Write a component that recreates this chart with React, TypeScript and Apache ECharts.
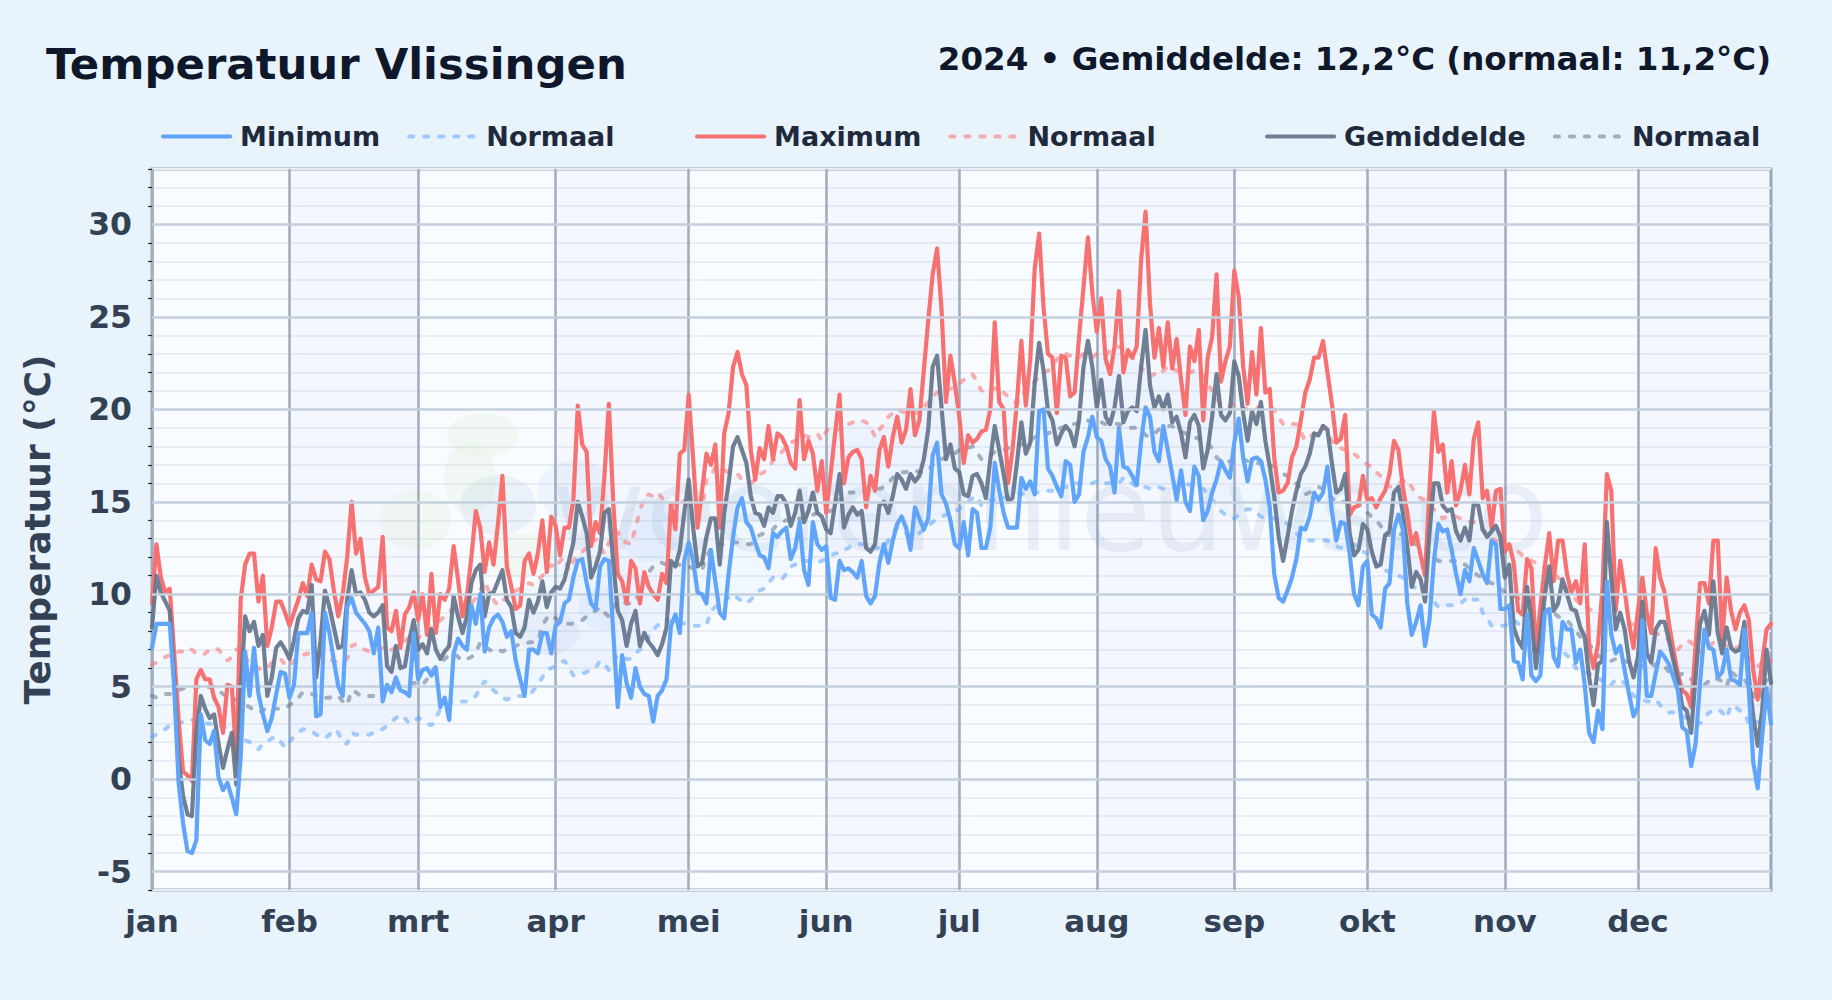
import React, { useEffect, useRef } from "react";
import * as echarts from "echarts";

const monthLabels = ["jan", "feb", "mrt", "apr", "mei", "jun", "jul", "aug", "sep", "okt", "nov", "dec"];
const monthStarts = [0, 31, 60, 91, 121, 152, 182, 213, 244, 274, 305, 335];
const yTickLabels = [-5, 0, 5, 10, 15, 20, 25, 30];
const yMinorTicks = [-6, -4, -3, -2, -1, 1, 2, 3, 4, 6, 7, 8, 9, 11, 12, 13, 14, 16, 17, 18, 19, 21, 22, 23, 24, 26, 27, 28, 29, 31, 32, 33];

const maxT = [
  9.5,12.7,10.9,10.1,10.3,6.8,3.2,0.4,0.2,-0.1,
  5.4,5.9,5.4,5.4,4.4,3.9,2.5,5.1,5.0,1.1,
  9.7,11.6,12.2,12.2,9.6,11.0,7.2,8.2,9.6,9.6,
  9.0,8.3,9.0,9.7,10.6,9.9,11.6,10.8,10.7,12.3,
  11.9,10.2,8.8,10.0,12.0,15.0,12.2,13.0,10.9,10.0,
  10.2,10.4,13.1,8.2,8.0,9.1,7.1,8.9,9.3,10.1,
  8.6,10.0,7.8,11.1,7.9,10.0,9.7,10.3,12.6,10.8,
  8.8,9.9,12.0,14.5,13.6,11.2,12.8,11.6,13.8,16.4,
  11.5,10.4,9.2,9.4,11.8,12.2,11.1,12.2,14.0,11.2,
  14.2,13.7,12.1,13.6,13.6,15.1,20.2,18.1,17.7,12.6,
  13.9,13.3,16.4,20.3,14.9,11.1,10.7,9.5,11.8,11.4,
  9.5,11.2,10.4,10.0,9.7,11.1,10.6,14.9,13.5,17.6,
  17.8,20.8,17.3,13.6,15.6,17.6,17.0,18.1,13.6,18.7,
  19.8,22.3,23.1,21.9,21.3,17.8,16.2,17.9,17.3,19.1,
  17.3,18.7,18.5,18.0,17.1,16.8,20.5,17.3,18.3,17.6,
  15.6,17.2,14.4,16.5,18.7,20.8,16.0,17.4,17.7,17.8,
  17.3,14.7,16.4,15.6,17.8,18.5,16.9,18.5,19.6,18.2,
  18.9,21.1,18.6,19.4,22.1,24.8,27.3,28.7,25.4,20.4,
  22.9,21.4,19.6,17.1,18.6,18.2,18.4,18.8,18.9,20.0,
  24.7,20.4,20.0,16.0,17.8,20.4,23.7,20.2,22.7,27.6,
  29.5,25.5,23.0,22.8,19.8,22.9,22.8,20.7,20.9,23.9,
  26.6,29.3,26.3,24.2,26.0,22.7,21.9,23.4,26.4,22.0,
  23.2,22.8,23.4,28.1,30.7,25.7,22.8,24.4,22.3,24.7,
  22.2,23.8,21.6,19.7,23.4,22.6,24.3,19.4,22.8,23.9,
  27.3,21.5,22.6,23.4,27.5,26.1,22.3,20.3,23.1,20.8,
  24.4,20.9,21.1,17.4,15.5,15.6,16.0,17.4,18.0,19.4,
  20.9,21.6,22.8,22.8,23.7,22.0,20.3,18.2,18.4,19.7,
  14.3,14.7,14.8,16.4,15.1,15.2,14.7,15.2,15.6,16.5,
  18.3,17.8,15.8,14.4,12.7,13.3,12.1,11.0,15.6,19.9,
  17.7,18.1,15.5,17.2,14.8,15.6,17.0,15.4,18.4,19.3,
  15.2,15.6,13.6,15.6,15.7,12.3,12.7,11.7,9.1,8.9,
  11.9,11.4,6.9,9.3,11.5,13.3,10.7,12.9,12.9,11.1,
  10.1,10.7,9.5,12.7,7.1,6.0,7.3,10.3,16.5,15.6,
  9.1,11.8,10.2,8.4,7.1,9.1,10.9,9.0,7.9,12.5,
  10.9,10.1,8.4,7.0,5.7,4.8,4.6,3.9,7.2,10.6,
  10.6,9.5,12.9,12.9,7.5,10.9,9.1,8.1,9.0,9.4,
  8.6,5.9,4.3,6.3,8.1,8.4,
];

const avgT = [
  8.2,11.0,10.1,9.6,9.1,5.4,1.0,-0.9,-1.9,-2.0,
  2.5,4.5,3.8,3.3,3.5,1.9,0.6,1.6,2.5,-0.3,
  4.8,8.8,8.0,8.5,7.2,7.8,4.5,5.5,7.1,7.4,
  7.0,6.5,7.5,8.7,9.1,9.0,10.5,5.5,7.5,10.2,
  9.3,8.2,7.1,7.2,9.7,11.3,10.0,10.1,9.7,9.0,
  8.8,9.0,9.4,6.1,5.8,7.2,6.0,6.1,7.5,8.6,
  7.0,7.3,6.8,8.1,7.0,6.5,6.9,7.2,9.9,8.8,
  7.9,8.8,10.6,11.3,11.6,8.8,10.0,10.1,10.7,11.3,
  9.7,9.3,7.9,7.7,8.2,9.7,9.0,9.6,10.7,9.3,
  10.1,10.4,10.3,10.8,11.8,12.8,15.0,14.2,13.3,10.9,
  11.5,12.3,14.4,14.6,11.7,9.1,8.6,7.2,8.4,9.1,
  7.2,7.9,7.4,7.1,6.7,7.3,8.2,11.8,11.5,12.4,
  14.4,16.2,13.6,11.5,11.7,13.1,14.1,14.1,11.6,14.4,
  16.0,18.0,18.5,17.8,17.1,15.3,14.4,14.3,13.7,14.7,
  14.4,15.3,15.3,14.9,13.7,14.4,15.6,13.9,14.5,15.5,
  14.4,14.2,13.5,13.3,14.9,16.5,13.6,14.3,14.7,14.3,
  14.5,12.5,12.3,12.7,14.8,15.0,14.4,15.3,16.5,16.2,
  15.7,16.5,16.1,16.4,17.3,18.9,22.3,22.9,20.1,17.3,
  18.1,16.8,16.6,15.4,15.3,16.4,16.5,16.0,15.2,17.3,
  19.1,17.8,16.5,15.0,15.2,17.1,19.3,17.6,18.2,21.4,
  23.6,22.1,19.9,19.4,18.1,18.7,19.1,18.8,18.0,19.4,
  22.3,23.7,22.3,20.1,21.6,19.6,19.2,20.1,21.8,19.3,
  19.9,20.1,19.9,22.3,24.3,21.3,20.1,20.7,20.0,20.8,
  19.3,19.6,18.7,17.4,19.3,19.7,19.1,16.8,17.8,19.6,
  21.9,19.7,19.4,19.8,22.6,21.8,19.8,18.3,19.9,19.2,
  20.4,18.3,16.9,15.3,13.1,11.8,13.1,14.5,15.6,16.5,
  16.9,17.6,18.7,18.6,19.1,18.9,17.1,15.5,15.7,16.5,
  13.3,12.1,12.4,13.8,13.5,12.3,11.5,11.6,13.2,13.4,
  15.5,15.8,14.4,12.6,10.4,11.2,10.8,9.6,13.3,16.0,
  16.0,14.8,14.5,14.6,13.4,12.9,13.6,12.9,14.9,14.8,
  13.5,13.1,13.4,13.7,13.1,10.9,11.6,8.2,7.5,7.1,
  10.4,8.6,6.0,7.9,9.9,11.5,9.1,9.5,10.8,10.0,
  9.2,9.1,8.2,7.7,5.5,4.0,6.2,6.4,13.9,10.8,
  8.1,9.0,8.1,6.4,5.5,6.6,9.6,6.8,6.3,8.1,
  8.5,8.5,7.5,6.4,5.4,3.9,3.7,2.5,5.5,8.4,
  9.1,7.8,10.7,7.9,6.8,8.2,7.1,6.9,7.0,8.5,
  5.5,3.4,1.8,3.7,7.0,5.2,
];

const minT = [
  7.1,8.4,8.4,8.4,8.4,5.0,-0.2,-2.4,-3.9,-4.0,
  -3.3,3.5,2.1,1.9,2.6,0.1,-0.6,-0.2,-1.0,-1.9,
  1.2,6.9,4.5,7.1,4.6,3.5,2.6,3.3,4.6,5.8,
  5.7,4.4,5.1,7.9,7.9,7.9,9.0,3.4,3.5,9.0,
  7.9,6.4,5.0,4.5,9.3,9.8,9.0,8.7,8.4,8.0,
  6.8,8.2,4.2,5.1,4.7,5.5,4.8,4.7,4.5,7.9,
  5.4,5.9,6.0,5.6,6.0,3.9,4.4,3.2,6.8,7.6,
  7.2,7.0,9.4,8.4,10.0,6.9,8.2,8.7,8.9,8.5,
  7.7,8.0,6.4,5.4,4.5,7.0,7.0,6.8,7.9,7.9,
  6.8,8.3,8.5,9.5,9.7,10.9,11.8,11.9,10.6,9.5,
  9.2,11.5,11.9,11.8,7.9,3.9,6.7,5.2,4.4,6.0,
  5.0,4.6,4.5,3.1,4.5,4.8,5.4,8.3,8.9,7.9,
  11.8,12.8,11.8,10.1,10.0,9.5,12.4,10.7,9.0,8.7,
  11.1,13.1,14.7,15.2,13.9,13.6,12.8,12.1,12.0,11.4,
  13.3,13.1,13.4,13.6,11.9,12.5,13.9,11.3,10.5,13.9,
  12.7,12.4,12.6,9.8,9.7,11.8,11.3,11.4,11.2,10.9,
  11.8,9.9,9.5,9.9,11.7,12.7,11.7,12.9,13.8,14.2,
  13.6,12.4,14.7,14.1,13.5,14.1,17.5,18.2,15.4,14.9,
  14.0,12.7,12.5,13.9,12.1,14.6,14.4,12.5,12.5,13.6,
  17.1,15.6,14.4,13.6,13.6,13.6,16.3,15.7,16.1,15.4,
  19.9,20.0,16.8,16.4,15.8,15.3,17.2,17.0,15.0,15.4,
  17.7,18.5,19.6,18.5,18.3,17.3,16.9,15.5,19.0,16.9,
  16.8,16.4,15.9,18.3,20.1,19.6,17.7,17.2,19.1,17.8,
  16.5,15.1,16.7,15.0,14.5,16.9,16.4,14.0,14.5,15.5,
  16.2,17.2,16.7,16.3,18.2,19.5,17.4,16.1,17.3,17.4,
  17.2,16.2,14.7,11.1,9.8,9.6,10.2,10.9,11.9,13.6,
  13.5,14.2,15.5,15.1,15.5,16.9,14.5,12.9,13.9,13.8,
  12.2,10.0,9.4,11.5,11.8,8.9,8.7,8.2,10.3,10.6,
  13.5,14.3,13.5,9.5,7.8,8.5,9.4,7.2,8.6,11.8,
  13.8,13.4,13.5,12.4,11.1,10.0,11.3,10.7,12.5,11.8,
  11.1,10.6,12.9,12.7,9.2,9.2,9.4,6.4,6.3,5.4,
  8.9,5.6,5.3,5.6,9.0,9.2,6.6,6.1,8.5,8.1,
  8.1,6.3,7.0,5.1,2.5,2.0,3.7,2.7,10.7,7.8,
  6.8,7.2,5.9,4.6,3.4,3.9,8.6,4.5,4.5,5.7,
  6.9,6.6,6.2,5.5,4.8,2.8,2.6,0.7,1.9,5.2,
  8.1,7.1,7.0,5.5,5.8,7.0,5.4,5.3,5.1,8.1,
  4.8,0.9,-0.5,2.3,4.9,3.0,
];

const normalMax = [
  6.2,6.3,6.5,6.6,6.7,6.7,6.9,6.9,7.1,7.0,
  6.8,6.7,6.8,7.0,7.1,7.0,6.7,6.4,6.6,7.0,
  7.1,6.6,6.3,6.1,6.0,5.9,6.0,6.3,6.4,6.5,
  6.2,6.1,6.4,6.6,6.7,6.8,6.7,6.6,6.7,6.6,
  6.5,6.4,6.3,6.4,6.5,7.2,7.3,7.1,7.0,6.9,
  6.9,7.0,7.1,7.2,7.0,7.1,7.3,7.5,7.7,7.7,
  7.6,7.9,8.0,8.2,8.3,8.6,8.8,9.0,9.3,9.1,
  9.0,9.2,9.5,9.8,10.2,10.7,10.1,9.7,9.4,9.6,
  9.9,10.1,10.2,10.3,10.4,10.6,10.5,10.8,11.0,11.3,
  11.6,11.4,11.8,12.0,11.3,11.8,12.1,12.3,12.5,12.7,
  13.0,12.6,12.2,12.8,13.1,13.4,12.9,12.8,12.7,13.6,
  14.5,15.3,15.4,15.3,15.5,15.2,14.9,14.8,15.0,15.1,
  15.0,14.8,14.7,14.6,14.7,16.2,16.4,16.9,16.8,16.7,
  16.6,16.5,16.5,16.2,16.1,16.0,16.2,16.5,16.6,16.9,
  17.2,17.5,17.7,18.0,18.2,18.3,18.5,18.6,18.5,18.6,
  18.7,18.3,18.8,19.1,19.0,18.9,19.0,19.2,19.3,19.3,
  19.4,19.3,19.1,18.5,18.9,19.2,19.6,19.8,20.0,19.9,
  19.8,19.7,19.8,19.8,20.1,20.4,20.7,20.9,21.0,21.2,
  21.1,21.3,21.4,21.6,21.8,21.9,21.5,21.0,21.1,21.2,
  21.1,21.2,20.9,20.7,20.5,20.3,20.7,21.0,21.3,21.5,
  21.8,22.0,22.1,22.4,22.7,23.0,23.0,22.9,22.9,22.8,
  23.0,22.9,22.8,23.0,23.0,22.9,23.2,23.3,23.4,23.2,
  23.0,22.8,22.6,22.3,21.9,21.8,21.9,21.8,22.1,22.3,
  22.2,22.1,22.0,21.9,22.0,22.1,22.1,21.8,21.4,21.0,
  20.6,20.3,20.1,20.2,20.3,20.2,20.1,20.0,20.0,20.1,
  20.1,20.0,20.0,20.0,19.6,19.2,19.3,19.2,19.2,18.8,
  18.3,18.5,18.7,18.9,19.1,18.7,18.3,18.0,17.9,17.8,
  17.7,17.6,17.4,17.3,17.0,16.9,16.6,16.4,16.1,15.8,
  15.9,16.0,16.1,16.2,15.8,15.4,15.2,15.1,14.8,14.6,
  14.4,14.1,14.2,14.2,14.2,14.1,14.0,13.9,13.9,13.8,
  13.5,13.3,13.0,12.9,12.8,12.7,12.6,12.6,12.3,12.1,
  11.9,11.8,11.7,11.6,11.4,11.2,11.1,10.9,10.7,10.4,
  10.0,9.7,9.5,9.4,9.2,9.1,9.1,9.0,8.9,8.8,
  8.7,8.6,8.5,8.5,8.3,8.1,8.0,8.0,7.8,7.9,
  7.8,7.7,7.5,7.2,7.0,7.3,7.5,7.4,7.0,6.9,
  6.8,7.1,7.4,7.4,7.3,7.2,7.3,7.2,7.0,6.9,
  6.5,6.3,6.1,6.3,6.6,6.4,
];

const normalAvg = [
  4.5,4.4,4.5,4.6,4.6,4.7,4.8,4.9,5.0,5.0,
  5.0,5.0,4.9,5.0,5.0,4.8,4.6,4.5,4.4,4.3,
  4.1,4.0,3.9,3.7,3.6,3.7,3.9,3.9,3.8,3.8,
  3.8,4.0,4.2,4.4,4.7,4.7,4.6,4.5,4.4,4.4,
  4.4,4.5,4.5,4.2,4.0,4.8,4.7,4.5,4.5,4.5,
  4.5,4.7,4.8,4.9,4.9,5.0,5.0,5.1,5.1,5.2,
  5.2,5.1,5.4,5.8,6.1,6.3,6.5,6.7,6.8,6.6,
  6.4,6.5,6.6,6.8,7.4,7.2,7.0,6.9,7.0,6.9,
  7.0,7.2,7.2,7.3,7.3,7.4,7.4,7.5,8.3,8.7,
  8.9,8.7,8.5,8.4,8.4,8.4,8.5,8.6,8.8,9.0,
  9.1,9.3,9.0,8.8,9.3,9.6,9.6,9.5,9.5,9.6,
  10.2,10.8,11.2,11.5,11.7,11.7,11.6,11.7,11.6,11.6,
  11.6,11.5,11.4,11.4,11.3,12.0,12.5,12.6,12.7,12.7,
  12.8,12.8,12.8,12.8,12.7,12.7,13.0,13.2,13.3,13.4,
  13.5,13.8,13.9,14.0,14.0,14.0,14.1,14.1,14.2,14.3,
  14.4,14.4,14.5,14.5,14.8,15.1,15.3,15.5,15.5,15.5,
  15.6,15.6,15.6,15.7,15.7,15.8,16.0,16.3,16.5,16.6,
  16.6,16.7,16.7,16.6,16.6,16.7,17.0,17.2,17.3,17.4,
  17.5,17.6,17.8,17.8,17.9,18.0,17.7,17.3,17.4,17.5,
  17.7,17.8,17.8,17.9,18.0,18.1,18.1,18.2,18.3,18.5,
  18.6,18.6,18.7,18.8,18.9,19.0,19.1,19.2,19.2,19.3,
  19.4,19.4,19.3,19.4,19.3,19.2,19.2,19.2,19.2,19.1,
  19.0,19.0,19.0,18.9,18.6,18.5,18.7,18.9,19.0,19.1,
  19.1,18.9,18.8,18.7,18.6,18.5,18.4,18.4,18.2,17.9,
  17.4,17.2,17.1,17.2,17.2,17.3,17.3,17.2,17.2,17.1,
  17.1,17.1,17.0,16.9,16.7,16.5,16.4,16.2,16.0,15.7,
  15.4,15.5,15.7,15.8,15.7,15.5,15.2,15.0,15.0,15.0,
  15.0,15.1,14.9,14.6,14.4,14.2,14.0,13.7,13.2,13.2,
  13.3,13.3,13.2,13.0,12.8,12.7,12.7,12.5,12.2,12.0,
  11.8,11.8,11.8,11.8,11.8,11.8,11.6,11.4,11.2,11.0,
  10.9,10.7,10.6,10.5,10.3,10.1,10.0,9.9,9.8,9.7,
  9.6,9.5,9.4,9.3,9.2,9.1,9.0,8.8,8.7,8.6,
  8.3,8.0,7.7,7.6,7.3,7.0,6.7,6.5,6.4,6.4,
  6.5,6.4,6.4,6.3,6.3,6.2,6.1,6.0,6.1,6.2,
  6.3,6.1,5.8,5.7,5.6,5.7,5.6,5.4,5.3,5.2,
  5.1,5.3,5.5,5.4,5.3,5.0,5.8,5.6,5.5,5.4,
  5.0,4.6,4.2,4.8,5.4,5.0,
];

const normalMin = [
  2.3,2.4,2.6,2.7,2.9,2.9,3.0,3.1,3.2,3.2,
  3.1,3.1,3.0,3.0,2.9,2.9,2.8,2.8,2.7,2.4,
  2.2,2.1,2.0,1.8,1.6,1.9,2.0,2.2,2.3,2.0,
  1.7,2.0,2.3,2.5,2.7,2.7,2.6,2.4,2.3,2.2,
  2.4,2.7,2.5,2.0,1.9,2.5,2.4,2.4,2.4,2.4,
  2.5,2.6,2.7,2.9,3.1,3.3,3.5,3.3,3.0,3.1,
  3.3,3.2,3.0,2.9,3.3,3.8,4.0,4.1,4.1,4.2,
  4.2,4.2,4.3,4.5,4.9,5.3,5.0,4.8,4.6,4.4,
  4.3,4.4,4.5,4.5,4.5,4.5,4.8,5.1,5.5,5.9,
  6.0,6.1,6.3,6.4,6.0,5.6,5.6,5.7,5.8,5.9,
  6.0,6.4,6.2,5.9,6.3,6.7,6.6,6.5,6.5,6.8,
  7.0,7.3,7.7,8.1,8.3,8.6,8.6,8.5,8.6,8.5,
  8.4,8.4,8.3,8.3,8.3,8.3,9.1,9.3,9.5,9.6,
  9.8,10.0,9.8,9.6,9.5,9.7,10.0,10.2,10.3,10.6,
  10.9,10.9,10.8,11.1,11.5,11.6,11.7,11.8,11.8,11.7,
  11.7,11.8,11.9,12.1,12.2,12.2,12.4,12.5,12.7,12.7,
  12.7,12.7,12.6,12.5,12.5,12.5,12.9,13.3,13.6,13.5,
  13.3,13.2,13.1,13.3,13.5,13.7,13.9,14.1,14.2,14.3,
  14.4,14.5,14.6,14.8,15.0,15.2,15.3,14.8,14.9,15.1,
  15.1,15.2,15.2,15.3,15.3,15.4,15.4,15.5,15.5,15.5,
  15.5,15.5,15.6,15.6,15.7,15.8,15.8,15.9,16.0,16.0,
  16.0,16.0,16.0,16.1,16.0,16.0,16.0,16.0,16.0,16.3,
  16.1,16.0,15.8,15.8,15.8,15.7,15.7,15.8,15.7,15.7,
  15.7,15.8,15.9,16.0,15.9,15.8,15.7,15.7,15.4,15.1,
  14.9,14.5,14.3,14.2,14.1,14.3,14.5,14.6,14.6,14.4,
  14.2,14.1,14.1,14.1,14.0,14.0,13.8,13.6,13.3,13.0,
  12.9,12.9,12.9,12.9,12.9,12.9,12.7,12.6,12.5,12.6,
  12.6,12.7,12.5,12.3,12.2,12.0,11.7,11.4,11.3,11.2,
  11.0,11.0,10.9,10.7,10.5,10.3,10.1,10.0,9.8,9.6,
  9.3,9.3,9.4,9.4,9.5,9.5,9.7,9.9,9.7,9.7,
  9.0,8.7,8.3,8.3,8.3,8.3,8.4,8.6,8.4,8.2,
  8.0,7.9,7.8,7.6,7.5,7.3,7.1,7.0,6.9,6.7,
  6.4,6.0,5.9,5.8,5.7,5.6,5.5,5.3,5.0,5.1,
  5.4,5.3,5.2,4.9,4.5,4.4,4.3,4.2,4.2,4.3,
  4.0,3.8,3.6,3.6,3.5,3.4,3.3,3.2,3.1,3.0,
  3.3,3.6,3.7,3.8,3.6,3.3,4.0,3.9,3.7,3.6,
  3.0,3.0,3.1,3.0,2.9,2.9,
];

const days = maxT.map((_, i) => String(i));
const evenMonthBands = [1, 3, 5, 7, 9, 11].map((m) => [
  { xAxis: monthStarts[m] },
  { xAxis: m === 11 ? 365 : monthStarts[m + 1] },
]);
const isMonthStart = (i: number) => monthStarts.includes(i);

const FONT = "DejaVu Sans";
const BLUE = "#60a5fa";
const RED = "#f87171";
const GRAY = "#64748b";

function solid(name: string, data: number[], color: string, z: number, opacity = 1) {
  return {
    name, type: "line", data, z, symbol: "none", silent: true,
    itemStyle: { color },
    lineStyle: { color, width: 4.2, cap: "round", join: "round", opacity },
  };
}
function dashed(name: string, data: number[], color: string, z: number) {
  return {
    name, type: "line", data, z, symbol: "none", silent: true,
    itemStyle: { color },
    lineStyle: { color, width: 4, type: [4, 11], cap: "round", opacity: 0.55 },
  };
}
function legendAt(left: number, solidName: string, normalName: string) {
  const text = { fontFamily: FONT, fontWeight: "bold", fontSize: 27, color: "#1e293b" };
  return {
    left, top: 123, padding: 0, itemGap: 27, itemWidth: 67, itemHeight: 14,
    orient: "horizontal", selectedMode: false,
    itemStyle: { opacity: 0 },
    lineStyle: { width: 4.2, cap: "round" },
    data: [
      { name: solidName, textStyle: { ...text, padding: [0, 0, 0, 5] } },
      { name: normalName, textStyle: { ...text, padding: [0, 0, 0, 5] } },
    ],
    formatter: (n: string) => (n.startsWith("Normaal") ? "Normaal" : n),
    textStyle: text,
  };
}
function blob(cx: number, cy: number, rx: number, ry: number, fill: string) {
  return { type: "ellipse", silent: true, z: 1, shape: { cx, cy, rx, ry }, style: { fill } };
}

export default function App() {
  const ref = useRef<HTMLDivElement>(null);
  useEffect(() => {
    const chart = echarts.init(ref.current!, undefined, { renderer: "svg" });
    chart.setOption({
      animation: false,
      backgroundColor: "#e8f3fc",
      textStyle: { fontFamily: FONT },
      title: [
        { text: "Temperatuur Vlissingen", left: 46, top: 42, padding: 0,
          textStyle: { fontFamily: FONT, fontWeight: "bold", fontSize: 43.4, color: "#0f172a" } },
        { text: "2024 • Gemiddelde: 12,2°C (normaal: 11,2°C)", right: 61, top: 42, padding: 0,
          textStyle: { fontFamily: FONT, fontWeight: "bold", fontSize: 32.5, color: "#0f172a" } },
      ],
      legend: [
        legendAt(161, "Minimum", "Normaal min"),
        legendAt(695, "Maximum", "Normaal max"),
        legendAt(1265, "Gemiddelde", "Normaal gem"),
      ],
      grid: { left: 152, right: 61, top: 169, bottom: 110, show: true, backgroundColor: "#f8fbff", borderColor: "#9aa8bc", borderWidth: 3 },
      xAxis: {
        type: "category", data: days, boundaryGap: false,
        axisLine: { show: false }, axisTick: { show: false },
        axisLabel: {
          interval: (i: number) => isMonthStart(i),
          formatter: (_: string, i: number) => monthLabels[monthStarts.indexOf(i)] ?? "",
          fontFamily: FONT, fontWeight: "bold", fontSize: 31, color: "#334155", margin: 15,
          hideOverlap: false, showMinLabel: true,
        },
        splitLine: { show: true, interval: (i: number) => isMonthStart(i), lineStyle: { color: "#a3afc1", width: 2.6 } },
      },
      yAxis: {
        type: "value", min: -6, max: 33, interval: 1,
        name: "Temperatuur (°C)", nameLocation: "middle", nameGap: 97,
        nameTextStyle: { fontFamily: FONT, fontWeight: "bold", fontSize: 36, color: "#334155" },
        axisLine: { show: false },
        axisTick: { show: true, length: 4, customValues: yMinorTicks, lineStyle: { color: "#1f2937", width: 1.2 } },
        axisLabel: { customValues: yTickLabels, fontFamily: FONT, fontWeight: "bold", fontSize: 31.5, color: "#334155", margin: 20 },
        splitLine: { show: true, lineStyle: { color: "#e8edf4", width: 2 } },
      },
      graphic: [
        blob(483, 435, 36, 22, "rgba(190,225,150,0.10)"),
        blob(470, 478, 26, 36, "rgba(190,225,150,0.10)"),
        blob(415, 520, 36, 30, "rgba(190,225,150,0.10)"),
        blob(520, 555, 34, 22, "rgba(190,225,150,0.10)"),
        blob(498, 505, 38, 30, "rgba(100,140,190,0.09)"),
        blob(575, 490, 38, 30, "rgba(110,170,230,0.08)"),
        blob(548, 633, 32, 22, "rgba(100,140,190,0.08)"),
        blob(650, 530, 30, 32, "rgba(110,170,230,0.08)"),
        blob(604, 608, 26, 22, "rgba(110,170,230,0.08)"),
        { type: "text", silent: true, z: 1, x: 1548, y: 567,
          style: { text: "weerennieuws.co", fontFamily: FONT, fontSize: 115, fontWeight: "normal", fill: "rgba(90,130,180,0.1)", textAlign: "right", textVerticalAlign: "bottom" } },
      ],
      series: [
        {
          name: "bandBase", type: "line", data: normalMin, stack: "band", z: 1, symbol: "none", silent: true,
          lineStyle: { width: 0, opacity: 0 },
          markArea: { silent: true, itemStyle: { color: "rgba(120,140,220,0.03)" }, data: evenMonthBands },
          markLine: {
            silent: true, symbol: "none", animation: false, label: { show: false },
            lineStyle: { color: "#c5d0de", width: 2.6, type: "solid" },
            data: yTickLabels.map((v) => ({ yAxis: v })),
          },
        },
        {
          name: "bandFill", type: "line", data: normalMax.map((v, i) => +(v - normalMin[i]).toFixed(1)),
          stack: "band", z: 1, symbol: "none", silent: true,
          lineStyle: { width: 0, opacity: 0 },
          areaStyle: { color: "rgba(96,165,250,0.07)" },
        },
        dashed("Normaal min", normalMin, BLUE, 2),
        dashed("Normaal max", normalMax, RED, 2),
        dashed("Normaal gem", normalAvg, GRAY, 2),
        solid("Maximum", maxT, RED, 3),
        solid("Gemiddelde", avgT, GRAY, 4, 0.92),
        solid("Minimum", minT, BLUE, 5),
      ],
    });
    return () => chart.dispose();
  }, []);
  return <div ref={ref} style={{ position: "absolute", left: 0, top: 0, width: 1832, height: 1000 }} />;
}
